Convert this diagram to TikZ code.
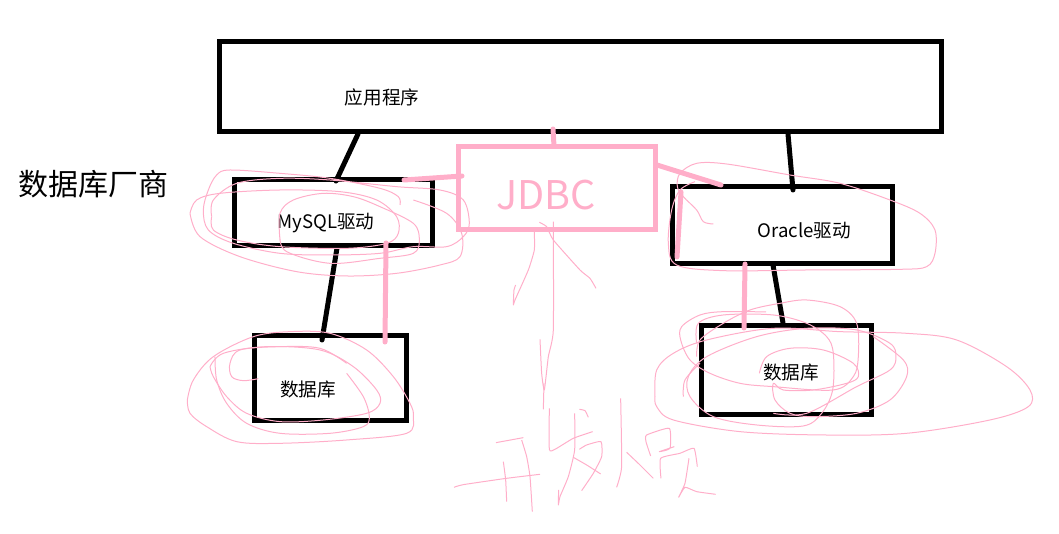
\documentclass[tikz,border=0pt]{standalone}
\usepackage{fontspec}
\setmainfont{Noto Sans CJK SC}
\definecolor{pk}{HTML}{FFAEC9}
\tikzset{
  blackbox/.style={draw=black,line width=5pt,minimum width=#1,inner sep=0pt,fill=none},
  pinkbox/.style={draw=pk,line width=5pt,inner sep=0pt},
  label18/.style={font=\fontsize{18.6}{20}\selectfont,text=black,inner sep=0pt},
  link/.style={draw=black,line width=5pt,line cap=round},
  plink/.style={draw=pk,line width=5pt,line cap=round},
  scrib/.style={draw=pk,line width=1pt,line join=round,smooth,tension=0.55},
  hand/.style={draw=pk,line width=1pt,line join=round},
}
\newcommand{\scr}[1]{\draw[scrib] plot coordinates {#1};}
\newcommand{\hnd}[1]{\draw[hand] plot[smooth,tension=0.3] coordinates {#1};}
\begin{document}
\begin{tikzpicture}[x=1pt,y=-1pt]
\useasboundingbox (0,0) rectangle (1059,534);
% boxes
\node[blackbox=722pt,minimum height=90pt] (app) at (580.5,86.5) {};
\node[blackbox=198pt,minimum height=66pt] (mysql) at (333.5,212.5) {};
\node[blackbox=152pt,minimum height=85pt] (dba) at (330.5,378) {};
\node[blackbox=220pt,minimum height=77pt] (oracle) at (782.5,225) {};
\node[blackbox=170pt,minimum height=89pt] (dbb) at (786.5,370) {};
% texts
\node[label18] (tapp) at (382,97) {应用程序};
\node[font=\fontsize{30}{32}\selectfont,text=black,inner sep=0pt] (tvendor) at (93.5,184) {数据库厂商};
\node[label18] (tmysql) at (326,223) {MySQL驱动};
\node[label18] (toracle) at (804.5,231) {Oracle驱动};
\node[label18] (tdba) at (308,389.5) {数据库};
\node[label18] (tdbb) at (791,372) {数据库};
% black connectors
\coordinate (a1) at (358,134); \coordinate (m1) at (336,181);
\coordinate (m2) at (337,248); \coordinate (d1) at (322,340);
\coordinate (a2) at (788,134); \coordinate (o1) at (793,190);
\coordinate (o2) at (773,265); \coordinate (d2) at (783,323);
\draw[link] (a1) -- (m1);
\draw[link] (m2) -- (d1);
\draw[link] (a2) -- (o1);
\draw[link] (o2) -- (d2);
% pink JDBC
\node[pinkbox,minimum width=197pt,minimum height=83pt] (jdbc) at (557,188) {};
\node[font=\fontsize{39.5}{44}\selectfont,text=pk,inner sep=0pt] (tjdbc) at (546,195) {JDBC};
\coordinate (p1) at (553,129); \coordinate (p2) at (554,146);
\coordinate (p3) at (404,180); \coordinate (p4) at (462,176);
\coordinate (p5) at (657,165); \coordinate (p6) at (721,185);
\coordinate (p7) at (681,192); \coordinate (p8) at (677,257);
\coordinate (p9) at (386,243); \coordinate (p10) at (385,342);
\coordinate (p11) at (745,264); \coordinate (p12) at (744,328);
\draw[plink] (p1) -- (p2);
\draw[plink] (p3) -- (p4);
\draw[plink] (p5) -- (p6);
\draw[plink] (p7) -- (p8);
\draw[plink] (p9) -- (p10);
\draw[plink] (p11) -- (p12);
% scribbles round MySQL and first database
\begin{scope}[shift={(180,150)},x=0.3333pt,y=-0.3333pt]
\scr{(660,165)(655,140)(600,115)(450,85)(300,70)(150,60)(110,75)(85,120)(70,180)(85,240)(160,280)(300,310)(450,315)(600,310)(700,290)(800,290)(850,260)(868,220)(850,150)(780,120)(650,110)(450,90)(300,85)(170,100)(100,150)(95,200)}
\scr{(30,190)(50,150)(120,130)(300,120)(480,125)(590,150)(650,200)(655,250)(620,280)(500,295)(300,290)(170,270)(100,240)(95,200)}
\scr{(30,190)(60,260)(180,320)(350,365)(500,378)(650,370)(780,345)(840,320)(845,250)(800,190)(700,150)}
\scr{(300,270)(300,190)(340,150)(430,130)(520,140)(600,170)(700,220)(718,270)(700,310)(600,325)(450,340)(320,305)(300,260)}
\scr{(22,750)(40,690)(100,620)(220,560)(330,545)(450,550)(560,600)(640,680)(690,760)(700,800)(680,850)(500,870)(300,880)(170,875)(80,830)(30,790)(22,750)}
\scr{(235,686)(190,692)(155,680)(150,640)(180,600)(300,590)(420,595)(500,640)}
\scr{(90,650)(130,610)(260,590)(420,600)(520,650)(590,720)(600,760)(560,790)(430,810)(300,815)(200,790)(140,740)(100,680)(90,650)}
\scr{(105,620)(110,690)(140,760)(200,820)(300,850)(450,850)(550,830)(568,800)(550,740)(500,670)}
\end{scope}
% scribbles round Oracle and second database
\begin{scope}[shift={(640,150)},x=0.3333pt,y=-0.3333pt]
\scr{(220,222)(190,215)(170,180)(130,140)(112,110)(120,70)(170,40)(260,42)(450,75)(600,100)(750,150)(840,190)(885,240)(885,310)(860,350)(780,358)(500,360)(250,362)(110,345)(85,280)(95,180)(120,120)(165,95)}
\scr{(45,740)(50,660)(100,610)(200,570)(400,535)(600,545)(800,550)(950,570)(1100,650)(1170,720)(1165,770)(1050,810)(800,850)(550,855)(300,845)(100,810)(50,770)(45,740)}
\scr{(378,486)(250,485)(180,495)(125,530)(122,570)(150,630)(210,670)(300,700)(400,710)(580,720)(640,680)(655,620)(650,520)(600,470)(500,450)(420,460)(330,480)(250,520)(180,570)(170,620)}
\scr{(170,580)(175,520)(250,495)(400,495)(500,520)(560,560)(580,610)(578,720)(545,790)(490,828)(350,825)(220,800)(150,740)(145,680)(200,620)(350,560)(500,535)(650,540)(750,580)(768,620)(750,660)(650,710)(500,790)(400,790)}
\scr{(358,670)(380,620)(450,595)(550,600)(640,640)(655,680)(620,700)(520,720)(430,720)(400,700)(405,750)(450,790)(520,800)(650,790)(750,750)(800,680)(790,630)(700,560)}
\scr{(130,740)(135,690)(180,640)}
\end{scope}
% arrow and handwriting
\begin{scope}[shift={(440,210)},x=0.3333pt,y=-0.3333pt]
\hnd{(340,35)(340,360)(325,440)(313,540)(305,490)(300,388)}
\hnd{(310,598)(312,520)}
\hnd{(283,65)(283,120)(265,180)(225,270)(220,285)(222,240)(227,225)}
\hnd{(298,37)(320,50)(340,90)(420,180)(450,205)(468,235)}
\hnd{(168,698)(250,683)}
\hnd{(245,690)(260,740)(270,800)(277,905)}
\hnd{(42,832)(70,824)(200,805)(300,793)}
\hnd{(190,755)(197,810)(200,875)}
\hnd{(328,595)(328,718)(345,718)(400,685)(458,665)}
\hnd{(404,610)(404,720)(385,800)(360,860)(355,885)(356,840)}
\hnd{(418,598)(435,602)(445,622)}
\hnd{(418,718)(440,705)(483,695)(485,740)(460,790)(425,842)}
\hnd{(400,742)(440,765)(482,792)}
\hnd{(542,565)(545,770)(530,832)}
\hnd{(560,727)(600,765)(640,805)}
\hnd{(632,738)(618,695)(620,675)(688,655)(690,715)(658,725)(703,710)}
\hnd{(663,805)(662,745)(720,730)(762,715)(772,770)}
\hnd{(747,745)(735,820)(716,862)(735,832)(770,845)(827,853)}
\end{scope}
\end{tikzpicture}
\end{document}
